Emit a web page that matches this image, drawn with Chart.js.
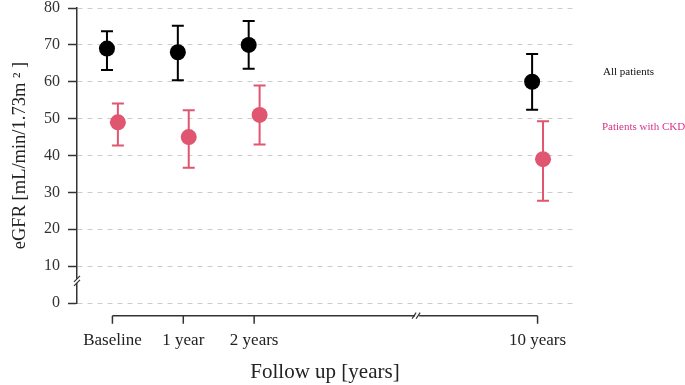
<!DOCTYPE html>
<html lang="en">
<head>
  <meta charset="UTF-8" />
  <title>eGFR follow up</title>
  <script src="https://cdn.jsdelivr.net/npm/chart.js"></script>
  <style>
    html, body { margin: 0; padding: 0; background: #fff; }
    #wrap { width: 685px; height: 385px; }
  </style>
</head>
<body>
  <div id="wrap"><canvas id="graphique"></canvas></div>

  <script>
    // categories and their position on the (broken) x axis
    const categories = ['Baseline', '1 year', '2 years', '10 years'];
    const xPositions = [0, 1, 2, 6];

    // all patients: mean and error bar limits
    const allMean = [69, 68, 70, 60];
    const allLow = [63.2, 60.4, 63.5, 52.4];
    const allHigh = [73.7, 75.2, 76.5, 67.5];

    // patients with CKD
    const ckdMean = [49, 45, 51, 39];
    const ckdLow = [42.7, 36.7, 43, 27.7];
    const ckdHigh = [54.1, 52.3, 59, 49.3];

    const yTicks = [0, 10, 20, 30, 40, 50, 60, 70, 80];

    const PINK = 'rgb(224, 86, 112)';
    const PINK_TEXT = '#d6338a';
    const AXIS = '#333';
    const SERIF = "'Liberation Serif', 'DejaVu Serif', serif";
    const DODGE = 0.077;

    function points(means, shift) {
      return means.map((m, i) => ({ x: xPositions[i] + shift, y: m }));
    }

    // error bars, drawn under the markers
    const errorBars = {
      id: 'errorBars',
      beforeDatasetsDraw(chart) {
        const { ctx, scales: { x, y } } = chart;
        const series = [
          { low: allLow, high: allHigh, shift: -DODGE, color: '#000' },
          { low: ckdLow, high: ckdHigh, shift: DODGE, color: PINK }
        ];
        ctx.save();
        series.forEach(s => {
          ctx.strokeStyle = s.color;
          ctx.lineWidth = 2;
          s.low.forEach((lo, i) => {
            const px = x.getPixelForValue(xPositions[i] + s.shift);
            const y1 = y.getPixelForValue(lo);
            const y2 = y.getPixelForValue(s.high[i]);
            ctx.beginPath();
            ctx.moveTo(px, y1); ctx.lineTo(px, y2);
            ctx.moveTo(px - 6, y1); ctx.lineTo(px + 6, y1);
            ctx.moveTo(px - 6, y2); ctx.lineTo(px + 6, y2);
            ctx.stroke();
          });
        });
        ctx.restore();
      }
    };

    // detached x axis line, tick marks, axis breaks and the text legend
    const decorations = {
      id: 'decorations',
      afterDraw(chart) {
        const { ctx, chartArea, scales: { x, y } } = chart;
        const ay = chartArea.bottom + 12.7;
        const x0 = x.getPixelForValue(xPositions[0]);
        const x1 = x.getPixelForValue(xPositions[xPositions.length - 1]);
        ctx.save();
        ctx.strokeStyle = AXIS;
        ctx.lineWidth = 1.5;
        ctx.beginPath();
        ctx.moveTo(x0, ay); ctx.lineTo(x1, ay);
        xPositions.forEach(v => {
          const px = x.getPixelForValue(v);
          ctx.moveTo(px, ay); ctx.lineTo(px, ay + 8);
        });
        ctx.stroke();

        // break on x axis
        const bx = x.getPixelForValue(4.3);
        ctx.fillStyle = '#fff';
        ctx.fillRect(bx - 2, ay - 2, 4, 4);
        ctx.lineWidth = 1.2;
        ctx.beginPath();
        ctx.moveTo(bx - 5, ay + 3); ctx.lineTo(bx - 1, ay - 3);
        ctx.moveTo(bx - 1, ay + 3); ctx.lineTo(bx + 3, ay - 3);
        ctx.stroke();

        // break on y axis
        const by = y.getPixelForValue(6);
        const lx = chartArea.left;
        ctx.fillRect(lx - 2, by - 2, 4, 4);
        ctx.beginPath();
        ctx.moveTo(lx - 3, by + 1); ctx.lineTo(lx + 3, by - 5);
        ctx.moveTo(lx - 3, by + 5); ctx.lineTo(lx + 3, by - 1);
        ctx.stroke();

        // legend
        ctx.font = '11px ' + SERIF;
        ctx.textAlign = 'left';
        ctx.textBaseline = 'middle';
        ctx.fillStyle = '#111';
        ctx.fillText('All patients', chartArea.right + 30, chartArea.top + 64);
        ctx.fillStyle = PINK_TEXT;
        ctx.fillText('Patients with CKD', chartArea.right + 29, chartArea.top + 119);
        ctx.restore();
      }
    };

    const ctx = document.getElementById('graphique').getContext('2d');

    const chart = new Chart(ctx, {
      type: 'scatter',
      data: {
        datasets: [
          {
            label: 'All patients',
            data: points(allMean, -DODGE),
            backgroundColor: '#000',
            borderWidth: 0,
            pointRadius: 8,
            pointHoverRadius: 8
          },
          {
            label: 'Patients with CKD',
            data: points(ckdMean, DODGE),
            backgroundColor: PINK,
            borderWidth: 0,
            pointRadius: 8,
            pointHoverRadius: 8
          }
        ]
      },
      options: {
        responsive: true,
        maintainAspectRatio: false,
        animation: false,
        layout: { padding: { left: 6, right: 112, top: 0, bottom: 0 } },
        plugins: {
          legend: { display: false },
          tooltip: { enabled: false }
        },
        scales: {
          x: {
            type: 'linear',
            min: -0.5,
            max: 6.5,
            grid: { display: false, drawTicks: false },
            border: { display: false },
            afterBuildTicks: scale => {
              scale.ticks = xPositions.map(v => ({ value: v }));
            },
            afterFit: scale => {
              scale.height = 82;
              scale.paddingLeft = 0;
              scale.paddingRight = 0;
            },
            ticks: {
              autoSkip: false,
              maxRotation: 0,
              padding: 27,
              color: '#222',
              font: { family: SERIF, size: 17 },
              callback: v => categories[xPositions.indexOf(v)]
            },
            title: {
              display: true,
              text: 'Follow up [years]',
              color: '#222',
              font: { family: SERIF, size: 21 },
              padding: { top: 9, bottom: 0 }
            }
          },
          y: {
            min: 0,
            max: 80,
            afterBuildTicks: scale => {
              scale.ticks = yTicks.map(v => ({ value: v }));
            },
            afterFit: scale => {
              scale.width = 71;
              scale.paddingTop = 6;
              scale.paddingBottom = 0;
            },
            grid: {
              color: '#ccc',
              lineWidth: 1,
              tickLength: 9,
              tickColor: AXIS,
              tickWidth: 1.5
            },
            border: { display: true, color: AXIS, width: 1.5, dash: [5, 5] },
            ticks: {
              padding: 8,
              color: '#333',
              font: { family: SERIF, size: 16, lineHeight: 0.75 }
            },
            title: {
              display: true,
              text: 'eGFR [mL/min/1.73m ² ]',
              color: '#222',
              font: { family: SERIF, size: 18.5 },
              padding: { top: 3, bottom: 8 }
            }
          }
        }
      },
      plugins: [errorBars, decorations]
    });
  </script>
</body>
</html>
